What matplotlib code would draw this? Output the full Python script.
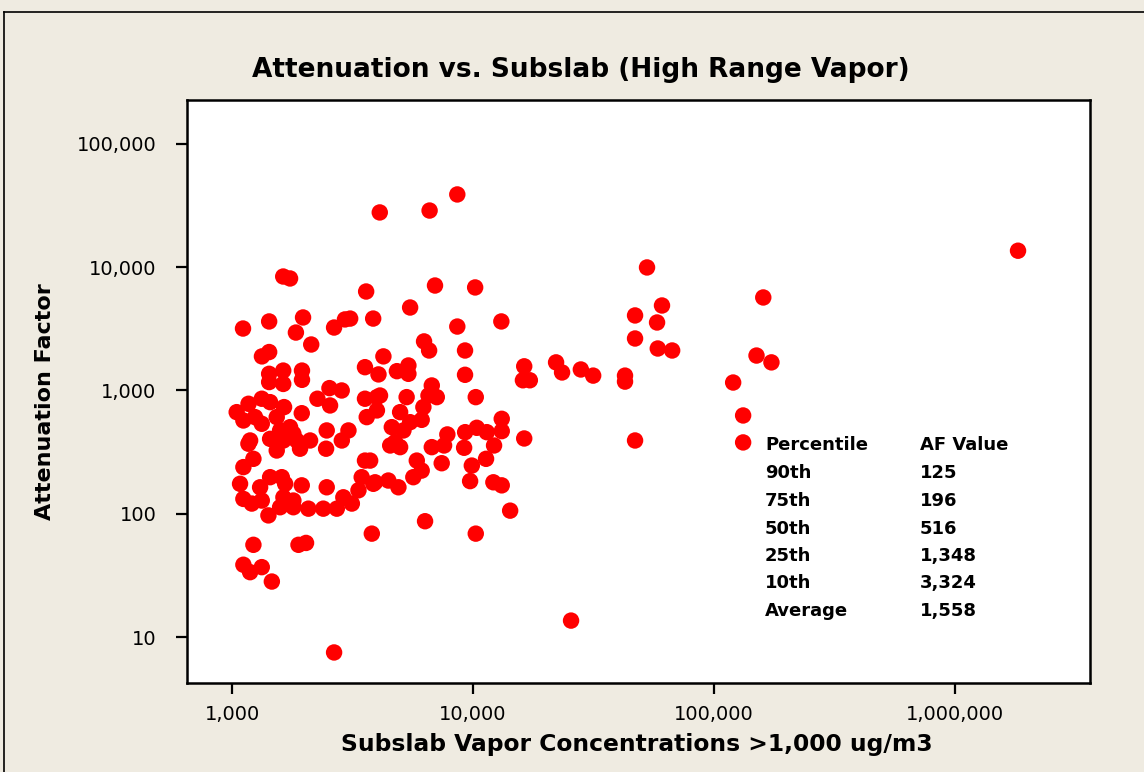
import matplotlib
matplotlib.use("Agg")
import matplotlib.pyplot as plt
from matplotlib.lines import Line2D
from matplotlib.ticker import FixedLocator, FuncFormatter, NullLocator

# Subslab vapor concentration (ug/m3) and attenuation factor
subslab = [
    8600, 4100, 6600, 1825000, 52700, 1630, 1740, 6950, 10200, 3600,
    5480, 60800, 47000, 160000, 1970, 1110, 1425, 2940, 3090, 3850,
    2650, 8600, 13100, 58000, 1840, 2130, 47000, 6260, 6570, 9260,
    58400, 67000, 150000, 173000, 120000, 132000, 132000, 47000, 22100, 23400,
    28000, 31500, 42700, 42700, 16300, 16100, 17200, 16300, 25500, 2650,
    14250, 10260, 3800, 6320, 1425, 1330, 1425, 1630, 1425, 1630,
    1950, 1950, 2535, 2850, 2260, 2550, 3560, 4050, 3560, 3990,
    3620, 3990, 1045, 1170, 1114, 1245, 1328, 1328, 1438, 1532,
    1643, 1946, 1582, 1740, 1796, 1633, 1438, 1188, 1169, 1854,
    2107, 1914, 1532, 2455, 2470, 2853, 3040, 1114, 1226, 3560,
    1079, 1307, 1114, 1207, 1328, 1438, 1608, 1660, 1946, 1633,
    1796, 1582, 1796, 2073, 1415, 2470, 2390, 2720, 2895, 3140,
    3345, 3450, 3855, 1226, 1886, 2027, 1114, 1188, 1328, 1462,
    4245, 4830, 5390, 5390, 9260, 6740, 7070, 6530, 10260, 5300,
    4110, 4980, 6220, 5480, 4600, 5140, 6120, 4750, 4980, 4530,
    3740, 5840, 5650, 6120, 3920, 4450, 4900, 6740, 7410, 7820,
    7580, 9270, 10360, 11400, 13150, 13150, 12220, 9180, 11320, 9880,
    9720, 12140, 13150,
]
atten = [
    38900, 27800, 28800, 13600, 9950, 8400, 8100, 7100, 6850, 6350,
    4710, 4890, 4060, 5680, 3910, 3180, 3630, 3770, 3830, 3830,
    3240, 3300, 3630, 3560, 2950, 2360, 2640, 2500, 2110, 2110,
    2190, 2110, 1920, 1690, 1160, 627, 379, 393, 1690, 1400,
    1480, 1320, 1320, 1180, 1570, 1210, 1210, 408, 13.6, 7.5,
    106, 69, 69, 87, 2050, 1890, 1365, 1450, 1170, 1130,
    1450, 1220, 1045, 1000, 857, 756, 1545, 1350, 857, 883,
    608, 689, 667, 780, 571, 608, 537, 857, 804, 608,
    733, 654, 474, 504, 446, 393, 405, 393, 370, 393,
    393, 337, 326, 337, 474, 393, 474, 239, 279, 270,
    175, 164, 132, 121, 128, 198, 198, 175, 170, 136,
    128, 113, 113, 110, 97, 164, 110, 110, 136, 121,
    155, 198, 175, 56, 56, 58, 38.6, 33.6, 36.9, 28.2,
    1890, 1434, 1595, 1365, 1340, 1098, 883, 910, 883, 883,
    910, 667, 733, 553, 504, 474, 578, 381, 347, 358,
    270, 270, 198, 224, 180, 186, 164, 347, 257, 440,
    358, 459, 498, 459, 589, 468, 358, 343, 279, 246,
    184, 180, 170,
]

x_ticks = [1e3, 1e4, 1e5, 1e6]
y_ticks = [10, 100, 1e3, 1e4, 1e5]

percentiles = ["90th", "75th", "50th", "25th", "10th", "Average"]
af_values = ["125", "196", "516", "1,348", "3,324", "1,558"]

bg = "#efebe1"
W, H = 1144, 772

fig = plt.figure(figsize=(W / 100, H / 100), dpi=100, facecolor=bg)
ax = fig.add_axes([187 / W, 1 - 683 / H, (1090 - 187) / W, (683 - 100) / H])
ax.set_facecolor("white")

ax.scatter(subslab, atten, s=140, color="#ff0000", edgecolors="none", zorder=3)

ax.set_xscale("log")
ax.set_yscale("log")
ax.set_xlim(650, 3.63e6)
ax.set_ylim(4.24, 2.27e5)

comma = FuncFormatter(lambda v, pos: f"{v:,.0f}")
ax.xaxis.set_major_locator(FixedLocator(x_ticks))
ax.yaxis.set_major_locator(FixedLocator(y_ticks))
ax.xaxis.set_minor_locator(NullLocator())
ax.yaxis.set_minor_locator(NullLocator())
ax.xaxis.set_major_formatter(comma)
ax.yaxis.set_major_formatter(comma)
ax.tick_params(axis="both", which="major", direction="out", length=8, width=1.6,
               labelsize=14)
ax.tick_params(axis="x", pad=8)
ax.tick_params(axis="y", pad=14)

for sp in ax.spines.values():
    sp.set_linewidth(1.8)

fig.text(581 / W, 1 - 70 / H, "Attenuation vs. Subslab (High Range Vapor)",
         ha="center", va="center", fontsize=19, fontweight="bold")
fig.text(637 / W, 1 - 745 / H, "Subslab Vapor Concentrations >1,000 ug/m3",
         ha="center", va="center", fontsize=16.8, fontweight="bold")
fig.text(45 / W, 1 - 402 / H, "Attenuation Factor", rotation=90,
         ha="center", va="center", fontsize=16, fontweight="bold")

# percentile table inside the plot
row_y = [445, 473, 501, 529, 556, 583, 611]
fig.text(765 / W, 1 - row_y[0] / H, "Percentile", ha="left", va="center",
         fontsize=13, fontweight="bold")
fig.text(920 / W, 1 - row_y[0] / H, "AF Value", ha="left", va="center",
         fontsize=13, fontweight="bold")
for yy, p, v in zip(row_y[1:], percentiles, af_values):
    fig.text(765 / W, 1 - yy / H, p, ha="left", va="center",
             fontsize=13, fontweight="bold")
    fig.text(920 / W, 1 - yy / H, v, ha="left", va="center",
             fontsize=13, fontweight="bold")

# frame lines at the top and left edge of the picture
fig.add_artist(Line2D([4 / W, 1], [1 - 12 / H, 1 - 12 / H], color="black", lw=1.2))
fig.add_artist(Line2D([4 / W, 4 / W], [0, 1 - 12 / H], color="black", lw=1.2))

fig.savefig("out.png", dpi=100, facecolor=bg)
